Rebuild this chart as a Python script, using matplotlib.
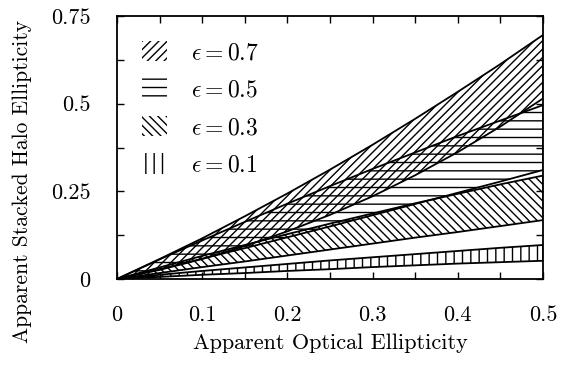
import numpy as np
import matplotlib
matplotlib.use("Agg")
import matplotlib.pyplot as plt
from matplotlib.patches import Patch

plt.rcParams['font.family'] = 'cmr10'
plt.rcParams['mathtext.fontset'] = 'cm'
plt.rcParams['axes.formatter.use_mathtext'] = True
plt.rcParams['hatch.linewidth'] = 1.0

# optical ellipticity samples
e_opt = [0, 0.05, 0.1, 0.15, 0.2, 0.25, 0.3, 0.35, 0.4, 0.45, 0.5]

# band edges, one pair per intrinsic halo ellipticity
upper_07 = [0, 0.057, 0.116, 0.179, 0.244, 0.312, 0.383, 0.457, 0.534, 0.613, 0.696]
lower_07 = [0, 0.026, 0.057, 0.094, 0.136, 0.183, 0.236, 0.296, 0.362, 0.435, 0.515]
upper_05 = [0, 0.056, 0.110, 0.163, 0.215, 0.265, 0.314, 0.361, 0.408, 0.452, 0.496]
lower_05 = [0, 0.028, 0.058, 0.088, 0.119, 0.150, 0.182, 0.214, 0.246, 0.278, 0.311]
upper_03 = [0, 0.033, 0.066, 0.097, 0.128, 0.158, 0.187, 0.216, 0.243, 0.270, 0.295]
lower_03 = [0, 0.017, 0.034, 0.050, 0.067, 0.084, 0.101, 0.118, 0.134, 0.151, 0.168]
upper_01 = [0, 0.012, 0.023, 0.033, 0.043, 0.053, 0.062, 0.071, 0.080, 0.089, 0.097]
lower_01 = [0, 0.006, 0.012, 0.017, 0.023, 0.028, 0.034, 0.039, 0.044, 0.048, 0.052]

labels = [r"$\epsilon = 0.7$", r"$\epsilon = 0.5$", r"$\epsilon = 0.3$", r"$\epsilon = 0.1$"]
hatches = ['////', '--', '\\\\\\\\', '||']

xticks = [0, 0.1, 0.2, 0.3, 0.4, 0.5]
xticklabels = ["0", "0.1", "0.2", "0.3", "0.4", "0.5"]
yticks = [0, 0.25, 0.5, 0.75]
yticklabels = ["0", "0.25", "0.5", "0.75"]

fig = plt.figure(figsize=(5.61, 3.65), dpi=100)
ax = fig.add_axes([0.2086, 0.2356, 0.7594, 0.7205])

bands = [(lower_07, upper_07), (lower_05, upper_05), (lower_03, upper_03), (lower_01, upper_01)]
for (lo, hi), h in zip(bands, hatches):
    ax.fill_between(e_opt, lo, hi, facecolor='none', edgecolor='black',
                    hatch=h, linewidth=1.3)

ax.set_xlim(0, 0.5)
ax.set_ylim(0, 0.75)
ax.set_xticks(xticks)
ax.set_xticklabels(xticklabels)
ax.set_yticks(yticks)
ax.set_yticklabels(yticklabels)
ax.set_xticks(np.arange(0.05, 0.5, 0.1), minor=True)
ax.set_yticks([0.125, 0.375, 0.625], minor=True)
ax.tick_params(which='both', direction='in', top=True, right=True,
               length=5, width=1.0, labelsize=16, pad=19)
for s in ax.spines.values():
    s.set_linewidth(1.3)

ax.set_xlabel("Apparent Optical Ellipticity", fontsize=16, labelpad=6)
ax.set_ylabel("Apparent Stacked Halo Ellipticity", fontsize=15.5)
ax.yaxis.set_label_coords(-0.2, 0.37)

handles = [Patch(facecolor='none', edgecolor='black', linewidth=0, hatch=h) for h in hatches]
ax.legend(handles, labels, loc='upper left', bbox_to_anchor=(0.058, 0.905),
          frameon=False, fontsize=17, handlelength=1.05, handleheight=0.95,
          labelspacing=0.6, handletextpad=1.05, borderpad=0, borderaxespad=0)

fig.savefig("out.png", dpi=100)
